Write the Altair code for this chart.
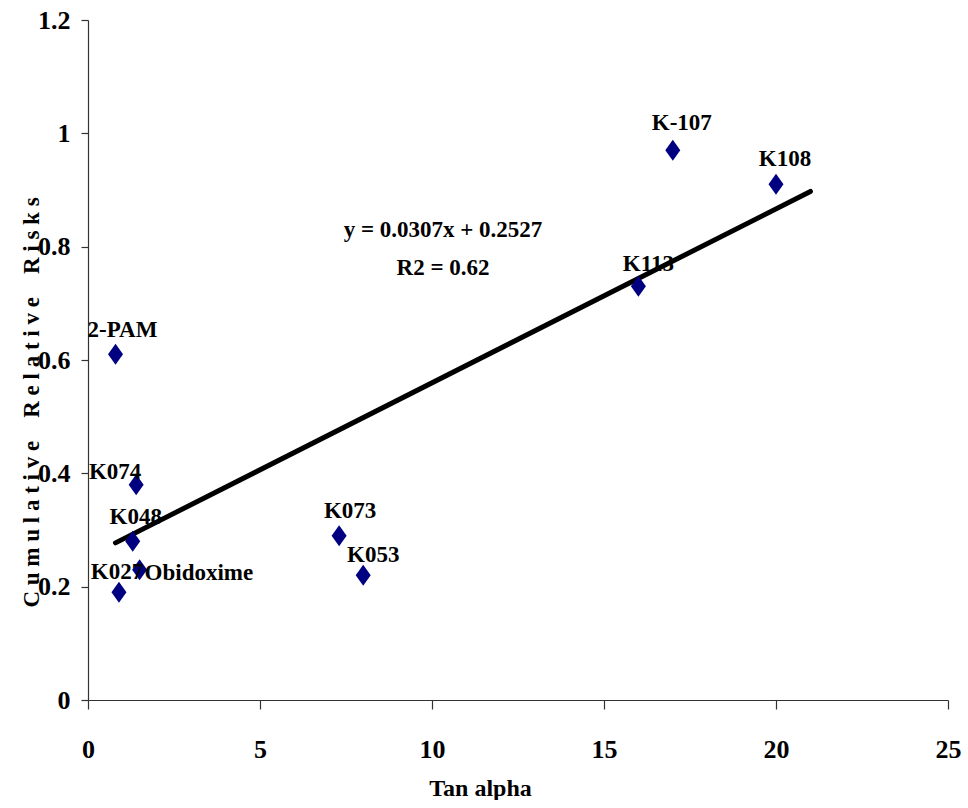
import altair as alt
import pandas as pd

# Oxime reactivators: tangent of the slope vs cumulative relative risk
names = ["2-PAM", "K074", "K048", "K027", "Obidoxime", "K073", "K053", "K113", "K-107", "K108"]
tan_alpha = [0.8, 1.4, 1.3, 0.9, 1.5, 7.3, 8.0, 16.0, 17.0, 20.0]
relative_risk = [0.61, 0.38, 0.28, 0.19, 0.23, 0.29, 0.22, 0.73, 0.97, 0.91]

# Linear trend line as reported on the chart
slope = 0.0307
intercept = 0.2527
r_squared = 0.62
fit_x = [0.8, 21.0]

x_ticks = [0, 5, 10, 15, 20, 25]
y_ticks = [0, 0.2, 0.4, 0.6, 0.8, 1.0, 1.2]

points = pd.DataFrame({"name": names, "tan": tan_alpha, "risk": relative_risk})
fit = pd.DataFrame({"tan": fit_x, "risk": [slope * v + intercept for v in fit_x]})

FONT = "Liberation Serif"
NAVY = "#000080"
DIAMOND = "M0,-1.4L1,0L0,1.4L-1,0Z"

# label placement around each marker: (align, dx, dy)
label_style = {
    "2-PAM": ("center", 7, -17),
    "K074": ("center", -21, -6),
    "K048": ("center", 3, -17),
    "K027": ("center", -2, -13),
    "Obidoxime": ("left", 5, 10),
    "K073": ("center", 11, -18),
    "K053": ("center", 10, -13),
    "K113": ("center", 10, -15),
    "K-107": ("center", 9, -20),
    "K108": ("center", 9, -18),
}

# letter-spaced y title (four-per-em spaces between letters, em spaces between words)
letter_gap = "\u2005"
word_gap = "\u2003"
y_title = word_gap.join(letter_gap.join(word) for word in "Cumulative Relative Risks".split())

x_enc = alt.X(
    "tan:Q",
    scale=alt.Scale(domain=[0, 25], nice=False),
    axis=alt.Axis(
        values=x_ticks, title="Tan alpha", grid=False, tickSize=9,
        labelPadding=48, labelBaseline="alphabetic", labelFontSize=26,
        labelFlush=False, titleFontSize=24,
        titleX=392, titleY=95, titleAlign="center", titleBaseline="alphabetic",
    ),
)
y_enc = alt.Y(
    "risk:Q",
    scale=alt.Scale(domain=[0, 1.2], nice=False),
    axis=alt.Axis(
        values=y_ticks, title=y_title, grid=False, tickSize=7, format=".1~f",
        labelPadding=11, labelFontSize=26, labelFlush=False, titleFontSize=23,
        titleAngle=270, titleX=-50, titleY=382, titleAlign="center",
        titleBaseline="alphabetic",
    ),
)

base = alt.Chart(points)

trend = alt.Chart(fit).mark_line(
    color="black", strokeWidth=5, strokeCap="round"
).encode(x=x_enc, y=y_enc)

markers = base.mark_point(
    shape=DIAMOND, filled=True, color=NAVY, size=225, opacity=1
).encode(x=x_enc, y=y_enc)

labels = []
for name, (align, dx, dy) in label_style.items():
    labels.append(
        base.transform_filter(alt.datum.name == name)
        .mark_text(
            align=align, baseline="alphabetic", dx=dx, dy=dy,
            font=FONT, fontWeight="bold", fontSize=23, color="black",
        )
        .encode(x=x_enc, y=y_enc, text="name:N")
    )

# regression equation and R2, placed in the upper middle of the plot
eq_text = f"y = {slope}x + {intercept}"
r2_text = f"R2 = {r_squared}"
equation = []
for txt, ypix in [(eq_text, 217), (r2_text, 255)]:
    equation.append(
        alt.Chart(pd.DataFrame({"t": [txt]})).mark_text(
            align="center", baseline="alphabetic", font=FONT, fontWeight="bold",
            fontSize=23, color="black",
        ).encode(x=alt.value(355), y=alt.value(ypix), text="t:N")
    )

chart = alt.layer(trend, markers, *labels, *equation).properties(
    width=860, height=680,
    autosize=alt.AutoSizeParams(type="none"),
    padding={"left": 88, "top": 20, "right": 20, "bottom": 100},
).configure(
    font=FONT,
).configure_axis(
    domainColor="#333333", tickColor="#333333", domainWidth=1.2, tickWidth=1.2,
    labelFont=FONT, labelFontWeight="bold", labelColor="black",
    titleFont=FONT, titleFontWeight="bold", titleColor="black",
).configure_view(stroke=None)

chart.save("out.html", embed_options={"renderer": "svg", "actions": False})
